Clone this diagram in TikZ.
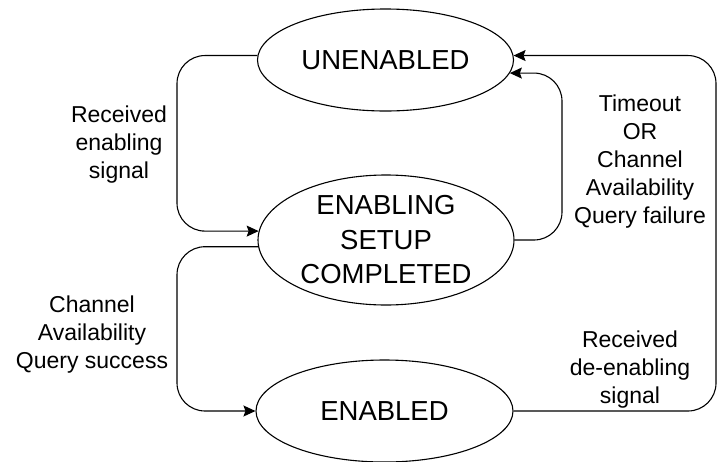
\documentclass[tikz,border=0pt]{standalone}
\usepackage{fontspec}
\setmainfont{Liberation Sans}
\usetikzlibrary{shapes.geometric,arrows.meta}
\begin{document}
\begin{tikzpicture}[x=1pt,y=-1pt,
  state/.style={draw,ellipse,line width=1.1pt,inner sep=0pt,align=center,
    font=\fontsize{27.5}{34.5}\selectfont},
  lbl/.style={align=center,inner sep=0pt,font=\fontsize{23}{28}\selectfont},
  conn/.style={line width=1.1pt,rounded corners=28pt,
    -{Stealth[length=12pt,width=11pt,inset=2pt]}}]
\useasboundingbox (0,0) rectangle (719,461);
\node[state,minimum width=256pt,minimum height=102pt] (u) at (385.5,60) {UNENABLED};
\node[state,minimum width=256pt,minimum height=130pt] (e) at (386,240) {ENABLING\\SETUP\\COMPLETED};
\node[state,minimum width=257pt,minimum height=102pt] (d) at (384.5,411) {ENABLED};
\coordinate (L) at (177,0);
\coordinate (R1) at (562,0);
\coordinate (R2) at (716,0);
\draw[conn] (u.178) -| (L |- e.176) -- (e.176);
\draw[conn] (e.183) -| (L |- d.west) -- (d.west);
\draw[conn] (e.east) -| (R1 |- u.-6) -- (u.-6);
\draw[conn] (d.east) -| (R2 |- u.2.5) -- (u.2.5);
\node[lbl] (t1) at (119,145) {Received\\enabling\\signal};
\node[lbl] (t2) at (92,335) {Channel\\Availability\\Query success};
\node[lbl] (t3) at (640,162) {Timeout\\OR\\Channel\\Availability\\Query failure};
\node[lbl] (t4) at (630,370) {Received\\de-enabling\\signal};
\end{tikzpicture}
\end{document}
